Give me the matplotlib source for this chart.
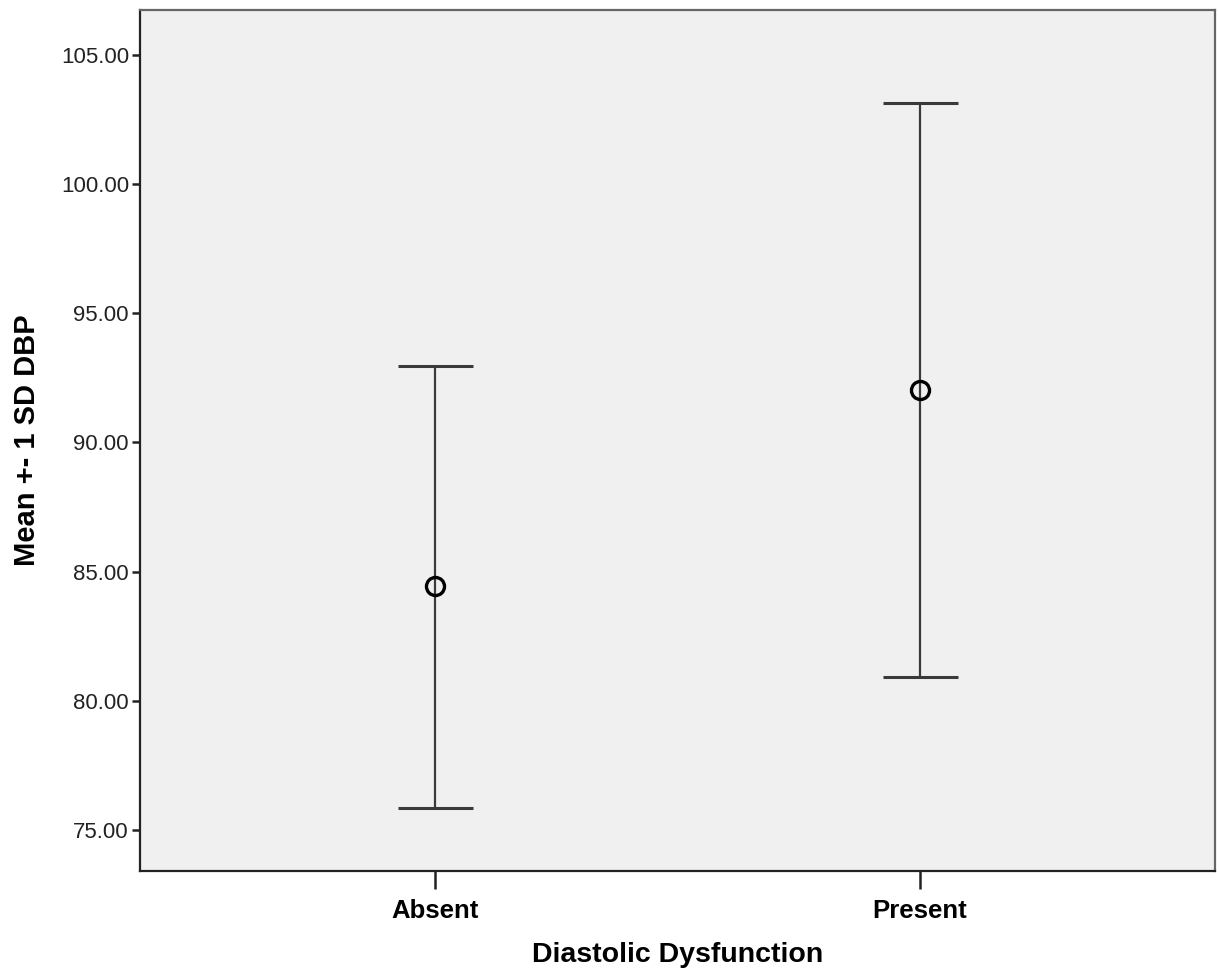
import matplotlib.pyplot as plt

groups = ["Absent", "Present"]
means = [84.42, 92.05]
upper = [92.95, 103.15]
lower = [75.85, 80.90]
yticks = [75, 80, 85, 90, 95, 100, 105]

plt.rcParams['font.family'] = ['Arial', 'Liberation Sans', 'DejaVu Sans']

fig = plt.figure(figsize=(12.19, 9.73), dpi=100)
ax = fig.add_axes([140 / 1219, 1 - 871 / 973, (1215 - 140) / 1219, (871 - 10) / 973])
ax.set_facecolor("#f0f0f0")

x = list(range(len(groups)))
err_lo = [m - l for m, l in zip(means, lower)]
err_hi = [u - m for m, u in zip(means, upper)]

# whiskers + caps
_, caps, bars = ax.errorbar(x, means, yerr=[err_lo, err_hi], fmt="none",
                            ecolor="#3a3a3a", elinewidth=1.6, capsize=27,
                            capthick=2.2)
for c in caps:
    c.set_color("#5a5a5a")
ax.plot(x, means, "o", markersize=13, markerfacecolor="none",
        markeredgecolor="black", markeredgewidth=2.4, zorder=5)

ax.set_xlim(-0.61, 1.61)
ax.set_ylim(73.4, 106.75)
ax.set_xticks(x)
ax.set_xticklabels(groups, fontsize=18.5, fontweight="bold")
ax.set_yticks(yticks)
ax.set_yticklabels([f"{v:.2f}" for v in yticks], fontsize=16, color="#222222")

for s in ax.spines.values():
    s.set_color("#222222")
    s.set_linewidth(1.6)
ax.spines["top"].set_color("#666666")
ax.spines["right"].set_color("#666666")
ax.tick_params(axis="y", length=6, width=1.8, color="#222222", pad=2)
ax.tick_params(axis="x", length=13, width=1.8, color="#222222", pad=7)

ax.set_xlabel("Diastolic Dysfunction", fontsize=20.5, fontweight="bold", labelpad=14)
ax.set_ylabel("Mean +- 1 SD DBP", fontsize=21, fontweight="bold", labelpad=14)

plt.savefig("out.png", dpi=100)
